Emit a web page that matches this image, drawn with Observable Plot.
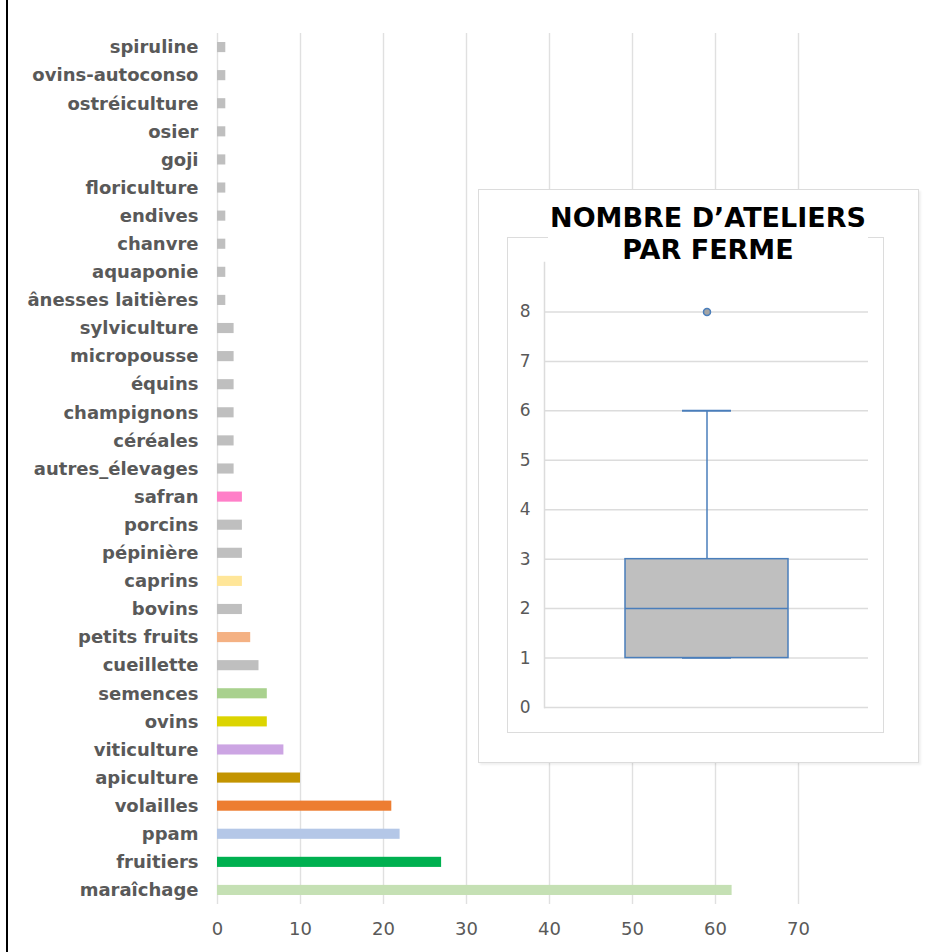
<!DOCTYPE html>
<html><head><meta charset="utf-8">
<script src="https://cdn.jsdelivr.net/npm/d3@7"></script>
<script src="https://cdn.jsdelivr.net/npm/@observablehq/plot@0.6"></script>
<style>
html,body{margin:0;padding:0;background:#fff;}
#wrap{position:relative;width:948px;height:952px;overflow:hidden;font-family:"DejaVu Sans",Verdana,sans-serif;}
#edge{position:absolute;left:6px;top:0;width:2px;height:952px;background:#000;}
#inset{position:absolute;left:478px;top:189px;width:441px;height:574px;background:#fff;border:1px solid #dcdcdc;box-shadow:2px 2px 2px rgba(0,0,0,0.06);box-sizing:border-box;}
#inner{position:absolute;left:507px;top:237px;width:377px;height:496px;border:1.5px solid #dcdcdc;box-sizing:border-box;}
#title{position:absolute;left:548px;top:202px;width:320px;height:60px;background:#fff;text-align:center;font-weight:bold;font-size:27px;line-height:32px;color:#000;white-space:nowrap;}
#wrap svg{position:absolute;}
</style>
</head><body>
<div id="wrap">
  <div id="edge"></div>
</div>
<script>
// ---- data: ateliers (bar chart) ----
const categories = ["spiruline","ovins-autoconso","ostréiculture","osier","goji","floriculture","endives","chanvre","aquaponie","ânesses laitières","sylviculture","micropousse","équins","champignons","céréales","autres_élevages","safran","porcins","pépinière","caprins","bovins","petits fruits","cueillette","semences","ovins","viticulture","apiculture","volailles","ppam","fruitiers","maraîchage"];
const values = [1,1,1,1,1,1,1,1,1,1,2,2,2,2,2,2,3,3,3,3,3,4,5,6,6,8,10,21,22,27,62];
const barColors = ["#bfbfbf","#bfbfbf","#bfbfbf","#bfbfbf","#bfbfbf","#bfbfbf","#bfbfbf","#bfbfbf","#bfbfbf","#bfbfbf","#bfbfbf","#bfbfbf","#bfbfbf","#bfbfbf","#bfbfbf","#bfbfbf","#ff7fc8","#bfbfbf","#bfbfbf","#ffe699","#bfbfbf","#f4b183","#bfbfbf","#a9d18e","#dcd400","#cca5e3","#c39400","#ed7d31","#b4c7e7","#00b050","#c5e0b4"];
const xTicks = [0,10,20,30,40,50,60,70];

// ---- data: nombre d'ateliers par ferme (box plot) ----
const boxTitle = ["NOMBRE D’ATELIERS", "PAR FERME"];
const boxKey = ["ateliers"];
const q1 = [1], median = [2], q3 = [3], whiskerLow = [1], whiskerHigh = [6];
const outliers = [8];
const yTicks = [0,1,2,3,4,5,6,7,8];

const wrap = document.getElementById("wrap");
const grey = "#595959";

const barData = categories.map((c, i) => ({c, v: values[i]}));
const main = Plot.plot({
  width: 948, height: 952,
  marginLeft: 217, marginRight: 67, marginTop: 33, marginBottom: 48,
  style: {fontFamily: "DejaVu Sans, Verdana, sans-serif", background: "transparent"},
  x: {domain: [0, 80], label: null},
  y: {domain: categories, paddingInner: 0.64, paddingOuter: 0.32, round: false, label: null},
  color: {domain: categories, range: barColors},
  marks: [
    Plot.ruleX(xTicks, {stroke: "#e0e0e0", strokeWidth: 1.4}),
    Plot.barX(barData, {x: "v", y: "c", fill: "c"}),
    Plot.axisX(xTicks, {tickSize: 0, tickPadding: 18, fontSize: 18, fill: grey, label: null}),
    Plot.axisY({tickSize: 0, tickPadding: 19, fontSize: 18, fontWeight: "bold", fill: grey, label: null})
  ]
});
main.style.left = "0px"; main.style.top = "0px";
wrap.appendChild(main);

const inset = document.createElement("div"); inset.id = "inset"; wrap.appendChild(inset);
const inner = document.createElement("div"); inner.id = "inner"; wrap.appendChild(inner);

const box = boxKey.map((k, i) => ({k, lo: whiskerLow[i], q1: q1[i], med: median[i], q3: q3[i], hi: whiskerHigh[i]}));
const outl = outliers.map(v => ({k: boxKey[0], v}));
const blue = "#4a7ebb";
const bp = Plot.plot({
  width: 440, height: 573,
  marginLeft: 66, marginRight: 50, marginTop: 73, marginBottom: 55,
  style: {fontFamily: "DejaVu Sans, Verdana, sans-serif", background: "transparent"},
  x: {domain: boxKey, padding: 0.33, axis: null},
  y: {domain: [0, 9], axis: null},
  marks: [
    Plot.ruleY(yTicks, {stroke: "#dcdcdc", strokeWidth: 1.5}),
    Plot.frame({anchor: "left", stroke: "#dcdcdc", strokeWidth: 1.5}),
    Plot.ruleX(box, {x: "k", y1: "q3", y2: "hi", stroke: blue, strokeWidth: 1.5}),
    Plot.tickY(box, {x: "k", y: "hi", insetLeft: 57, insetRight: 57, stroke: blue, strokeWidth: 2}),
    Plot.tickY(box, {x: "k", y: "lo", insetLeft: 57, insetRight: 57, stroke: blue, strokeWidth: 1.5}),
    Plot.barY(box, {x: "k", y1: "q1", y2: "q3", fill: "#bfbfbf", stroke: blue, strokeWidth: 1.5}),
    Plot.tickY(box, {x: "k", y: "med", stroke: blue, strokeWidth: 1.5}),
    Plot.dot(outl, {x: "k", y: "v", r: 3.5, fill: "#a5a5a5", stroke: blue, strokeWidth: 1.5}),
    Plot.axisY(yTicks, {tickSize: 0, tickPadding: 14, fontSize: 17, fill: grey, label: null})
  ]
});
bp.style.left = "478px"; bp.style.top = "189px";
wrap.appendChild(bp);

const title = document.createElement("div"); title.id = "title";
title.innerHTML = boxTitle.join("<br>");
wrap.appendChild(title);
</script>
</body></html>
